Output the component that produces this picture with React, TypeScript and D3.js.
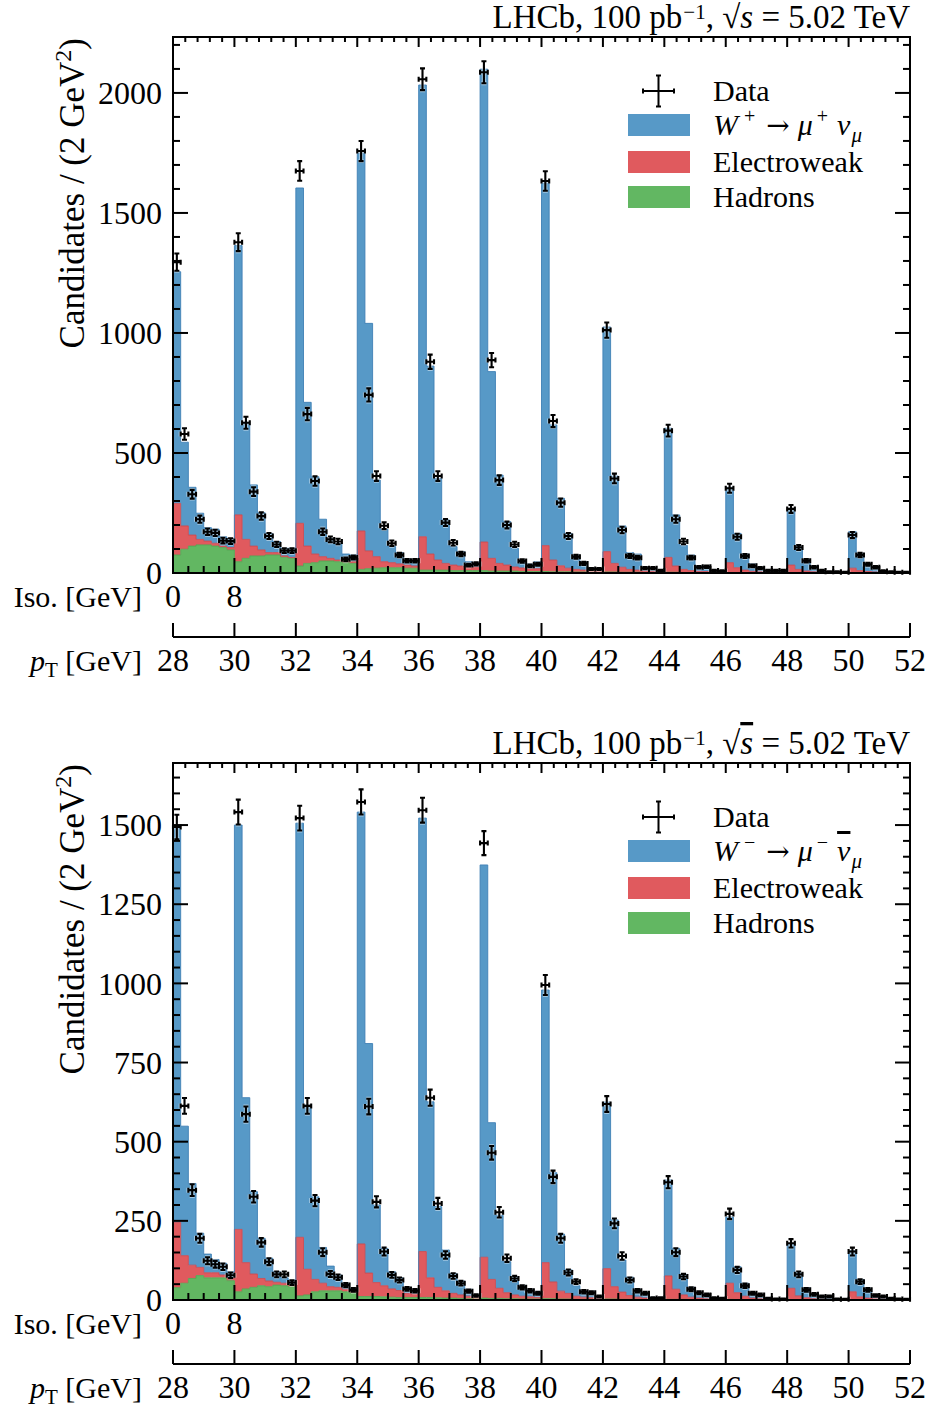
import React from "react";
import * as d3 from "d3";

const FONT = "'Liberation Serif', 'Times New Roman', Times, serif";

// Binning: 12 pT bins of 2 GeV, each split into 8 isolation bins of 1 GeV
const PT_EDGES = [28, 30, 32, 34, 36, 38, 40, 42, 44, 46, 48, 50, 52];
const N_ISO = 8;
const N_BINS = (PT_EDGES.length - 1) * N_ISO;
const ISO_TICKS = [
  { bin: 0, label: "0" },
  { bin: 8, label: "8" },
];

// W+ sample (candidates per bin)
const wPlusSignal = [
  965, 349, 199, 109, 56, 59, 39, 38,
  1122, 488, 255, 155, 80, 46, 32, 38,
  1397, 599, 322, 156, 83, 70, 29, 28,
  1575, 948, 319, 135, 67, 47, 27, 25,
  1882, 783, 340, 181, 77, 60, 22, 18,
  1970, 778, 368, 181, 78, 33, 20, 29,
  1511, 563, 281, 145, 60, 35, 12, 10,
  936, 364, 172, 70, 67, 18, 15, 5,
  538, 213, 100, 65, 23, 24, 6, 5,
  314, 143, 67, 31, 17, 6, 5, 3,
  236, 95, 49, 25, 7, 4, 3, 2,
  152, 72, 34, 22, 7, 4, 2, 2,
];
const wPlusElectroweak = [
  215, 97, 46, 23, 16, 12, 6, 10,
  195, 79, 41, 25, 10, 10, 6, 4,
  178, 72, 36, 18, 11, 7, 7, 7,
  160, 74, 48, 25, 21, 16, 13, 9,
  139, 67, 42, 28, 23, 19, 15, 15,
  119, 53, 32, 25, 17, 15, 12, 12,
  108, 49, 25, 15, 11, 8, 7, 5,
  85, 36, 21, 12, 9, 6, 5, 3,
  62, 26, 13, 8, 5, 4, 3, 2,
  41, 20, 10, 6, 4, 3, 2, 2,
  31, 14, 7, 4, 2, 2, 2, 2,
  19, 9, 5, 3, 3, 2, 2, 1,
];
const wPlusHadrons = [
  75, 99, 112, 117, 117, 112, 106, 96,
  47, 61, 71, 71, 75, 75, 65, 61,
  29, 40, 43, 50, 50, 47, 43, 40,
  15, 18, 20, 22, 22, 22, 20, 20,
  12, 12, 12, 12, 10, 10, 10, 10,
  10, 8, 8, 8, 8, 6, 6, 6,
  6, 5, 5, 5, 4, 4, 3, 3,
  4, 4, 3, 3, 3, 2, 2, 2,
  3, 3, 2, 2, 2, 2, 1, 1,
  2, 2, 2, 1, 1, 1, 1, 1,
  2, 1, 1, 1, 1, 0, 0, 0,
  1, 1, 1, 1, 0, 0, 0, 0,
];
const wPlusData = [
  1295, 579, 328, 224, 172, 167, 135, 133,
  1378, 626, 339, 237, 154, 119, 93, 93,
  1675, 662, 383, 172, 140, 131, 57, 65,
  1758, 742, 404, 197, 124, 75, 51, 51,
  2057, 880, 404, 210, 126, 79, 33, 38,
  2086, 887, 387, 200, 119, 50, 30, 36,
  1633, 633, 293, 154, 68, 40, 17, 17,
  1012, 394, 179, 71, 64, 20, 20, 10,
  593, 224, 131, 64, 24, 26, 10, 8,
  353, 151, 71, 30, 20, 10, 10, 10,
  267, 106, 51, 24, 10, 5, 5, 3,
  158, 75, 36, 24, 8, 5, 3, 3,
];

// W- sample (candidates per bin)
const wMinusSignal = [
  1245, 409, 258, 108, 59, 42, 37, 21,
  1277, 521, 260, 127, 72, 33, 17, 16,
  1308, 519, 261, 113, 65, 39, 19, 11,
  1364, 725, 245, 118, 54, 40, 19, 16,
  1369, 556, 255, 129, 63, 44, 22, 7,
  1239, 495, 231, 98, 58, 34, 24, 17,
  861, 345, 180, 74, 33, 20, 21, 8,
  526, 211, 101, 58, 25, 18, 5, 5,
  303, 129, 65, 31, 19, 14, 5, 4,
  209, 82, 41, 18, 12, 3, 2, 1,
  140, 73, 32, 16, 9, 8, 2, 2,
  130, 55, 31, 12, 8, 3, 2, 1,
];
const wMinusElectroweak = [
  206, 87, 42, 26, 16, 16, 9, 7,
  197, 83, 42, 23, 18, 9, 8, 5,
  185, 81, 39, 24, 13, 11, 8, 3,
  166, 74, 44, 35, 26, 22, 13, 11,
  145, 62, 33, 23, 15, 11, 8, 6,
  129, 60, 32, 19, 12, 9, 7, 5,
  114, 53, 25, 18, 10, 7, 5, 4,
  96, 39, 23, 12, 7, 5, 3, 2,
  74, 32, 14, 8, 5, 3, 2, 2,
  51, 22, 11, 5, 3, 3, 2, 2,
  36, 12, 6, 3, 3, 2, 2, 1,
  25, 9, 5, 4, 3, 2, 1, 1,
];
const wMinusHadrons = [
  39, 53, 68, 77, 70, 70, 70, 61,
  26, 35, 40, 45, 42, 47, 45, 42,
  13, 16, 26, 29, 29, 29, 26, 23,
  11, 11, 11, 10, 9, 8, 8, 8,
  8, 8, 7, 6, 6, 5, 4, 3,
  6, 5, 5, 4, 4, 3, 3, 3,
  4, 4, 3, 3, 2, 2, 2, 1,
  3, 3, 2, 2, 2, 1, 1, 1,
  2, 2, 2, 1, 1, 1, 1, 0,
  2, 1, 1, 1, 1, 0, 0, 0,
  1, 1, 1, 1, 0, 0, 0, 0,
  1, 1, 1, 0, 0, 0, 0, 0,
];
const wMinusData = [
  1494, 613, 347, 195, 124, 113, 105, 78,
  1541, 587, 326, 182, 121, 81, 81, 55,
  1522, 613, 314, 151, 82, 72, 47, 32,
  1573, 611, 310, 153, 79, 63, 35, 29,
  1547, 639, 305, 142, 76, 53, 28, 14,
  1443, 465, 277, 132, 68, 40, 29, 21,
  995, 389, 195, 87, 58, 26, 23, 11,
  619, 242, 139, 63, 29, 21, 6, 6,
  372, 151, 74, 34, 23, 16, 6, 5,
  272, 95, 45, 21, 16, 5, 3, 3,
  179, 81, 32, 18, 11, 11, 3, 2,
  153, 58, 32, 14, 11, 5, 3, 2,
];

const COLORS = { had: "#62b762", ew: "#e05a5e", sig: "#5799c7" };
const EDGES = { had: "#53a653", ew: "#cc4a50", sig: "#3f80b6" };

const X0 = 173;
const X1 = 910;
const FS = 30; // legend and axis-title text
const FS_TICK = 32; // tick numbers

type PanelProps = {
  top: number;
  bottom: number;
  yMax: number;
  yMajor: number;
  yMinor: number;
  signal: number[];
  ew: number[];
  had: number[];
  data: number[];
  charge: "+" | "-";
};

function SignalLabel({ x, y, charge }: { x: number; y: number; charge: "+" | "-" }) {
  const sup = charge === "+" ? "+" : "\u2212";
  return (
    <text x={x} y={y} fontFamily={FONT} fontSize={FS}>
      <tspan fontStyle="italic">W</tspan>
      <tspan dx={6} dy={-12} fontSize={20}>{sup}</tspan>
      <tspan dx={11} dy={12} fontFamily="'DejaVu Serif', serif" fontSize={28}>{"\u2192"}</tspan>
      <tspan dx={8} fontStyle="italic">{"\u03bc"}</tspan>
      <tspan dx={4} dy={-12} fontSize={20}>{sup}</tspan>
      <tspan dx={9} dy={12} fontStyle="italic" textDecoration={charge === "-" ? "overline" : undefined}>
        {"\u03bd"}
      </tspan>
      <tspan dx={1} dy={7} fontSize={21} fontStyle="italic">{"\u03bc"}</tspan>
    </text>
  );
}

function Panel({ top, bottom, yMax, yMajor, yMinor, signal, ew, had, data, charge }: PanelProps) {
  const x = d3.scaleLinear().domain([0, N_BINS]).range([X0, X1]);
  const y = d3.scaleLinear().domain([0, yMax]).range([bottom, top]);

  const rows = d3.range(N_BINS).map((i) => ({ had: had[i], ew: ew[i], sig: signal[i] }));
  const layers = d3.stack<any>().keys(["had", "ew", "sig"])(rows);
  const edges = d3.range(N_BINS + 1);
  const at = (e: number) => Math.min(e, N_BINS - 1);

  const areaPath = (layer: any) =>
    d3
      .area<number>()
      .curve(d3.curveStepAfter)
      .x((e) => x(e))
      .y0((e) => y(layer[at(e)][0]))
      .y1((e) => y(layer[at(e)][1]))(edges) as string;
  const topPath = (layer: any) =>
    d3
      .line<number>()
      .curve(d3.curveStepAfter)
      .x((e) => x(e))
      .y((e) => y(layer[at(e)][1]))(edges) as string;

  // data points with Poisson errors
  const cap = 2.5;
  const marks = data
    .map((n, i) => {
      const xl = x(i);
      const xr = x(i + 1);
      const xc = (xl + xr) / 2;
      const yc = y(n);
      const err = Math.sqrt(n);
      const yt = y(n + err);
      const yb = y(Math.max(0, n - err));
      return (
        `M${xl},${yc}H${xr}M${xl},${yc - cap}V${yc + cap}M${xr},${yc - cap}V${yc + cap}` +
        `M${xc},${yt}V${yb}M${xc - cap},${yt}H${xc + cap}M${xc - cap},${yb}H${xc + cap}`
      );
    })
    .join("");

  const yTicks = d3.range(0, yMax + 1e-6, yMinor);
  const bottomTicks = d3.range(0, N_BINS + 1e-6, 2);
  const topTicks = d3.range(0, 61).map((k) => ({ v: k * 1.6, major: k % 5 === 0 }));

  const keys: ("had" | "ew" | "sig")[] = ["had", "ew", "sig"];

  const legX = 628;
  const legText = 713;
  const cy0 = top + 54;

  return (
    <g>
      {/* stacked templates */}
      {layers.map((layer: any, k: number) => (
        <path key={"a" + k} d={areaPath(layer)} fill={COLORS[keys[k]]} stroke="none" />
      ))}
      {layers.map((layer: any, k: number) => (
        <path key={"l" + k} d={topPath(layer)} fill="none" stroke={EDGES[keys[k]]} strokeWidth={0.9} />
      ))}

      {/* data */}
      <path d={marks} fill="none" stroke="#fff" strokeOpacity={0.45} strokeWidth={4} />
      <path d={marks} fill="none" stroke="#000" strokeWidth={2.1} />

      {/* frame */}
      <rect x={X0} y={top} width={X1 - X0} height={bottom - top} fill="none" stroke="#000" strokeWidth={2} />

      {/* y ticks, left and right */}
      {yTicks.map((v) => {
        const major = Math.abs(v / yMajor - Math.round(v / yMajor)) < 1e-6;
        const len = major ? 15 : 7;
        const yy = y(v);
        return (
          <g key={"y" + v}>
            <line x1={X0} x2={X0 + len} y1={yy} y2={yy} stroke="#000" strokeWidth={2} />
            <line x1={X1} x2={X1 - len} y1={yy} y2={yy} stroke="#000" strokeWidth={2} />
            {major && (
              <text x={162} y={yy} dy="0.35em" textAnchor="end" fontFamily={FONT} fontSize={FS_TICK}>
                {String(v)}
              </text>
            )}
          </g>
        );
      })}

      {/* bottom ticks: every 2 isolation bins, long at pT boundaries */}
      {bottomTicks.map((v) => {
        const len = v % N_ISO === 0 ? 15 : 7;
        return <line key={"b" + v} x1={x(v)} x2={x(v)} y1={bottom} y2={bottom - len} stroke="#000" strokeWidth={2} />;
      })}

      {/* top ticks: pT scale with minor subdivisions */}
      {topTicks.map((t, k) => (
        <line key={"t" + k} x1={x(t.v)} x2={x(t.v)} y1={top} y2={top + (t.major ? 10 : 5)} stroke="#000" strokeWidth={2} />
      ))}

      {/* y label */}
      <text
        transform={`translate(84,${top + 1}) rotate(-90)`}
        textAnchor="end"
        fontFamily={FONT}
        fontSize={35}
      >
        Candidates / (2 GeV<tspan dy={-13} fontSize={24}>2</tspan>
        <tspan dy={13}>)</tspan>
      </text>

      {/* header */}
      <text x={X1} y={top - 9} textAnchor="end" fontFamily={FONT} fontSize={33}>
        LHCb, 100 pb<tspan dx={1} dy={-9} fontSize={21}>{"\u22121"}</tspan>
        <tspan dy={9}>{", \u221a"}</tspan>
        <tspan fontStyle="italic" textDecoration="overline">s</tspan>
        <tspan>{" = 5.02 TeV"}</tspan>
      </text>

      {/* legend */}
      <path
        d={`M${legX + 15},${cy0}H${legX + 46}M${legX + 15},${cy0 - 2.5}V${cy0 + 2.5}M${legX + 46},${cy0 - 2.5}V${cy0 + 2.5}M${legX + 30.5},${cy0 - 15.5}V${cy0 + 15.5}M${legX + 28},${cy0 - 15.5}H${legX + 33}M${legX + 28},${cy0 + 15.5}H${legX + 33}`}
        fill="none"
        stroke="#000"
        strokeWidth={2}
      />
      <text x={legText} y={cy0 + 10} fontFamily={FONT} fontSize={FS}>Data</text>
      <rect x={legX} y={top + 77} width={62} height={22} fill={COLORS.sig} />
      <SignalLabel x={legText} y={top + 98} charge={charge} />
      <rect x={legX} y={top + 114} width={62} height={22} fill={COLORS.ew} />
      <text x={legText} y={top + 135} fontFamily={FONT} fontSize={FS}>Electroweak</text>
      <rect x={legX} y={top + 149} width={62} height={22} fill={COLORS.had} />
      <text x={legText} y={top + 170} fontFamily={FONT} fontSize={FS}>Hadrons</text>

      {/* isolation labels */}
      <text x={142} y={bottom + 34} textAnchor="end" fontFamily={FONT} fontSize={FS}>Iso. [GeV]</text>
      {ISO_TICKS.map((t) => (
        <text key={"iso" + t.bin} x={x(t.bin)} y={bottom + 34} textAnchor="middle" fontFamily={FONT} fontSize={FS_TICK}>
          {t.label}
        </text>
      ))}

      {/* pT axis */}
      <line x1={X0} x2={X1} y1={bottom + 64} y2={bottom + 64} stroke="#000" strokeWidth={2} />
      {PT_EDGES.map((pt, k) => (
        <g key={"pt" + pt}>
          <line x1={x(k * N_ISO)} x2={x(k * N_ISO)} y1={bottom + 64} y2={bottom + 50} stroke="#000" strokeWidth={2} />
          <text x={x(k * N_ISO)} y={bottom + 98} textAnchor="middle" fontFamily={FONT} fontSize={FS_TICK}>
            {String(pt)}
          </text>
        </g>
      ))}
      <text x={142} y={bottom + 98} textAnchor="end" fontFamily={FONT} fontSize={FS}>
        <tspan fontStyle="italic">p</tspan>
        <tspan dy={6} fontSize={21}>T</tspan>
        <tspan dy={-6}>{" [GeV]"}</tspan>
      </text>
    </g>
  );
}

export default function App() {
  return (
    <svg
      width={931}
      height={1409}
      viewBox="0 0 931 1409"
      style={{ position: "absolute", left: 0, top: 0, background: "#fff" }}
    >
      <rect x={0} y={0} width={931} height={1409} fill="#fff" />
      <Panel
        top={37}
        bottom={573}
        yMax={2233}
        yMajor={500}
        yMinor={100}
        signal={wPlusSignal}
        ew={wPlusElectroweak}
        had={wPlusHadrons}
        data={wPlusData}
        charge="+"
      />
      <Panel
        top={763}
        bottom={1300}
        yMax={1696}
        yMajor={250}
        yMinor={50}
        signal={wMinusSignal}
        ew={wMinusElectroweak}
        had={wMinusHadrons}
        data={wMinusData}
        charge="-"
      />
    </svg>
  );
}
